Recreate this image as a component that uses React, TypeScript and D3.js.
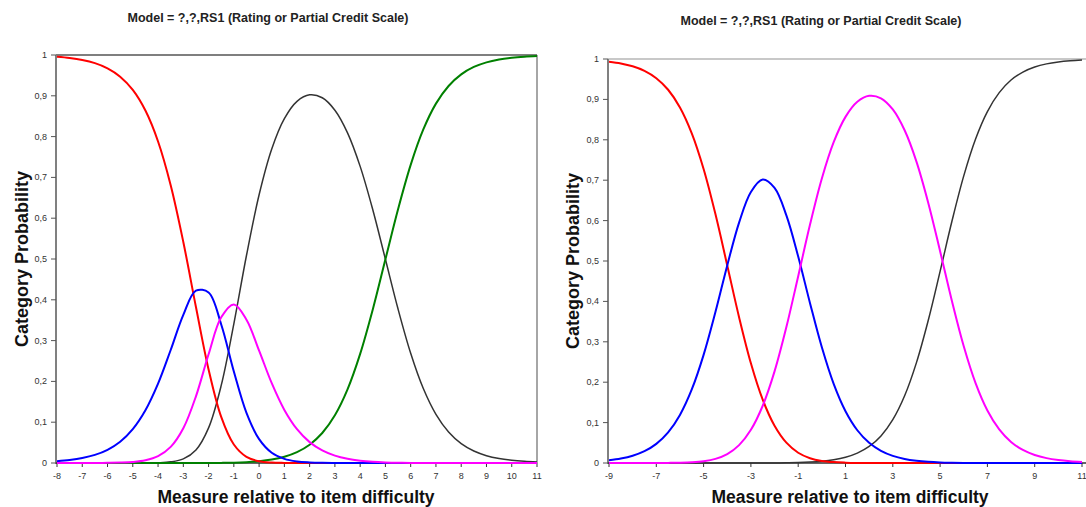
import React from 'react';
import * as d3 from 'd3';

const TITLE = 'Model = ?,?,RS1 (Rating or Partial Credit Scale)';
const Y_TITLE = 'Category Probability';
const X_TITLE = 'Measure relative to item difficulty';

// ---------- Left chart (5 categories) ----------
const leftX = [-8, -7.5, -7, -6.5, -6, -5.5, -5, -4.5, -4, -3.5, -3, -2.5, -2, -1.5, -1, -0.5, 0, 0.5, 1, 1.5, 2, 2.5, 3, 3.5, 4, 4.5, 5, 5.5, 6, 6.5, 7, 7.5, 8, 8.5, 9, 9.5, 10, 10.5, 11];
const leftRed = [0.9955, 0.9926, 0.9878, 0.98, 0.9673, 0.9469, 0.9144, 0.8638, 0.7881, 0.6809, 0.5417, 0.3822, 0.2294, 0.113, 0.0453, 0.0151, 0.0043, 0.0011, 0.0003, 0.0001, 0, 0, 0, 0, 0, 0, 0, 0, 0, 0, 0, 0, 0, 0, 0, 0, 0, 0, 0];
const leftBlue = [0.0045, 0.0074, 0.0121, 0.0198, 0.0323, 0.0521, 0.083, 0.1292, 0.1944, 0.2769, 0.3631, 0.4224, 0.418, 0.3396, 0.2242, 0.1229, 0.0585, 0.0252, 0.0102, 0.0039, 0.0015, 0.0005, 0.0002, 0.0001, 0, 0, 0, 0, 0, 0, 0, 0, 0, 0, 0, 0, 0, 0, 0];
const leftMagenta = [0, 0, 0.0001, 0.0001, 0.0004, 0.001, 0.0026, 0.0068, 0.0168, 0.0394, 0.0851, 0.1634, 0.2665, 0.357, 0.3886, 0.3513, 0.2754, 0.1956, 0.1301, 0.0829, 0.0512, 0.0308, 0.018, 0.0102, 0.0056, 0.0029, 0.0014, 0.0006, 0.0003, 0.0001, 0, 0, 0, 0, 0, 0, 0, 0, 0];
const leftBlack = [0, 0, 0, 0, 0, 0, 0, 0.0002, 0.0007, 0.0028, 0.0101, 0.032, 0.0861, 0.1901, 0.3412, 0.5086, 0.6574, 0.7696, 0.844, 0.8864, 0.9024, 0.8952, 0.8647, 0.8092, 0.727, 0.6207, 0.4993, 0.3773, 0.2689, 0.1824, 0.1192, 0.0759, 0.0474, 0.0293, 0.018, 0.011, 0.0067, 0.0041, 0.0025];
const leftGreen = [0, 0, 0, 0, 0, 0, 0, 0, 0, 0, 0, 0, 0.0001, 0.0003, 0.0008, 0.0021, 0.0044, 0.0085, 0.0155, 0.0268, 0.0449, 0.0735, 0.117, 0.1805, 0.2674, 0.3764, 0.4993, 0.622, 0.7308, 0.8175, 0.8808, 0.9241, 0.9526, 0.9707, 0.982, 0.989, 0.9933, 0.9959, 0.9975];
const leftTicks = [-8, -7, -6, -5, -4, -3, -2, -1, 0, 1, 2, 3, 4, 5, 6, 7, 8, 9, 10, 11];

// ---------- Right chart (4 categories) ----------
const rightX = [-9, -8.5, -8, -7.5, -7, -6.5, -6, -5.5, -5, -4.5, -4, -3.5, -3, -2.5, -2, -1.5, -1, -0.5, 0, 0.5, 1, 1.5, 2, 2.5, 3, 3.5, 4, 4.5, 5, 5.5, 6, 6.5, 7, 7.5, 8, 8.5, 9, 9.5, 10, 10.5, 11];
const rightRed = [0.9933, 0.989, 0.982, 0.9707, 0.9525, 0.9239, 0.8802, 0.8161, 0.7278, 0.6161, 0.489, 0.3609, 0.2468, 0.1566, 0.0922, 0.0503, 0.0254, 0.0119, 0.0052, 0.0022, 0.0009, 0.0003, 0.0001, 0, 0, 0, 0, 0, 0, 0, 0, 0, 0, 0, 0, 0, 0, 0, 0, 0, 0];
const rightBlue = [0.0067, 0.011, 0.018, 0.0293, 0.0474, 0.0758, 0.1191, 0.1821, 0.2677, 0.3737, 0.489, 0.5949, 0.671, 0.7017, 0.681, 0.6129, 0.5111, 0.3956, 0.2863, 0.1958, 0.1282, 0.0811, 0.05, 0.0301, 0.0177, 0.0101, 0.0056, 0.0029, 0.0014, 0.0007, 0.0003, 0.0001, 0, 0, 0, 0, 0, 0, 0, 0, 0];
const rightMagenta = [0, 0, 0, 0, 0.0001, 0.0003, 0.0007, 0.0018, 0.0044, 0.0102, 0.022, 0.0442, 0.0822, 0.1417, 0.2267, 0.3364, 0.4624, 0.5902, 0.7042, 0.794, 0.8568, 0.8941, 0.9089, 0.9028, 0.8751, 0.8236, 0.7461, 0.6438, 0.5242, 0.401, 0.289, 0.1978, 0.1301, 0.0832, 0.0521, 0.0323, 0.0198, 0.0121, 0.0074, 0.0045, 0.0027];
const rightBlack = [0, 0, 0, 0, 0, 0, 0, 0, 0, 0, 0, 0, 0, 0.0001, 0.0002, 0.0005, 0.001, 0.0022, 0.0043, 0.008, 0.0142, 0.0244, 0.0409, 0.0671, 0.1072, 0.1663, 0.2484, 0.3533, 0.4743, 0.5983, 0.7107, 0.8021, 0.8699, 0.9168, 0.9479, 0.9677, 0.9802, 0.9879, 0.9926, 0.9955, 0.9973];
const rightTicks = [-9, -7, -5, -3, -1, 1, 3, 5, 7, 9, 11];

const yTicks = [0, 0.1, 0.2, 0.3, 0.4, 0.5, 0.6, 0.7, 0.8, 0.9, 1];

const FONT = '"Liberation Sans", Arial, sans-serif';

type Series = { values: number[]; color: string; width: number };

function Panel(props: {
  xs: number[];
  series: Series[];
  xDomain: [number, number];
  xRange: [number, number];
  yRange: [number, number];
  xTicks: number[];
  topColor: string;
  topWidth: number;
  rightBorder: boolean;
  rightEdge: number;
  titleX: number;
  titleY: number;
  yTitleX: number;
  xTitleX: number;
}) {
  const { xs, series, xDomain, xRange, yRange, xTicks } = props;
  const x = d3.scaleLinear().domain(xDomain).range(xRange);
  const y = d3.scaleLinear().domain([0, 1]).range(yRange);
  const fmt = (v: number) => (v === 0 ? '0' : v === 1 ? '1' : d3.format('.1f')(v).replace('.', ','));
  const x0 = xRange[0] - 1;
  const yTop = yRange[1];
  const yBot = yRange[0];
  return (
    <g>
      <text x={props.titleX} y={props.titleY} textAnchor="middle" fontFamily={FONT} fontSize={12.5} fontWeight="bold" fill="#222">
        {TITLE}
      </text>
      {/* top border */}
      <line x1={x0} x2={props.rightEdge} y1={yTop} y2={yTop} stroke={props.topColor} strokeWidth={props.topWidth} />
      {props.rightBorder && <line x1={props.rightEdge} x2={props.rightEdge} y1={yTop} y2={yBot} stroke="#888" strokeWidth={1.5} />}
      {/* y axis */}
      <line x1={x0} x2={x0} y1={yTop} y2={yBot + 1} stroke="#808080" strokeWidth={2} />
      {yTicks.map((t) => (
        <g key={t}>
          <line x1={x0 - 5} x2={x0} y1={y(t)} y2={y(t)} stroke="#555" strokeWidth={1} />
          <text x={x0 - 9} y={y(t) + 3} textAnchor="end" fontFamily={FONT} fontSize={9} fill="#333">
            {fmt(t)}
          </text>
        </g>
      ))}
      {/* x axis */}
      <line x1={x0} x2={props.rightEdge} y1={yBot} y2={yBot} stroke="#333" strokeWidth={1.5} />
      {xTicks.map((t) => (
        <g key={t}>
          <line x1={x(t)} x2={x(t)} y1={yBot} y2={yBot + 4} stroke="#333" strokeWidth={1} />
          <text x={x(t)} y={yBot + 16} textAnchor="middle" fontFamily={FONT} fontSize={9} fill="#333">
            {t}
          </text>
        </g>
      ))}
      {/* curves */}
      {series.map((s, i) => {
        const line = d3
          .line<number>()
          .x((_, j) => x(xs[j]))
          .y((v) => y(Math.max(0, v)))
          .curve(d3.curveCatmullRom.alpha(0.5));
        return <path key={i} d={line(s.values) || ''} fill="none" stroke={s.color} strokeWidth={s.width} strokeLinejoin="round" />;
      })}
      {/* axis titles */}
      <text
        transform={`translate(${props.yTitleX},${(yTop + yBot) / 2}) rotate(-90)`}
        textAnchor="middle"
        fontFamily={FONT}
        fontSize={18}
        fontWeight="bold"
        fill="#111"
      >
        {Y_TITLE}
      </text>
      <text x={props.xTitleX} y={503} textAnchor="middle" fontFamily={FONT} fontSize={17.5} fontWeight="bold" fill="#111">
        {X_TITLE}
      </text>
    </g>
  );
}

export default function App() {
  const leftSeries: Series[] = [
    { values: leftBlack, color: '#333333', width: 1.5 },
    { values: leftGreen, color: '#008000', width: 2 },
    { values: leftRed, color: '#ff0000', width: 2 },
    { values: leftBlue, color: '#0000ff', width: 2 },
    { values: leftMagenta, color: '#ff00ff', width: 2 },
  ];
  const rightSeries: Series[] = [
    { values: rightBlack, color: '#333333', width: 1.5 },
    { values: rightRed, color: '#ff0000', width: 2 },
    { values: rightBlue, color: '#0000ff', width: 2 },
    { values: rightMagenta, color: '#ff00ff', width: 2 },
  ];
  return (
    <svg width={1086} height={507} style={{ position: 'absolute', left: 0, top: 0, background: '#fff' }}>
      <rect x={0} y={0} width={1086} height={507} fill="#fff" />
      <Panel
        xs={leftX}
        series={leftSeries}
        xDomain={[-8, 11]}
        xRange={[57, 537]}
        yRange={[463, 55]}
        xTicks={leftTicks}
        topColor="#555"
        topWidth={1.5}
        rightBorder={true}
        rightEdge={537}
        titleX={268}
        titleY={22}
        yTitleX={28}
        xTitleX={296}
      />
      <Panel
        xs={rightX}
        series={rightSeries}
        xDomain={[-9, 11]}
        xRange={[609, 1082]}
        yRange={[463, 59]}
        xTicks={rightTicks}
        topColor="#c8c8c8"
        topWidth={2}
        rightBorder={false}
        rightEdge={1090}
        titleX={821}
        titleY={25}
        yTitleX={579}
        xTitleX={850}
      />
    </svg>
  );
}
